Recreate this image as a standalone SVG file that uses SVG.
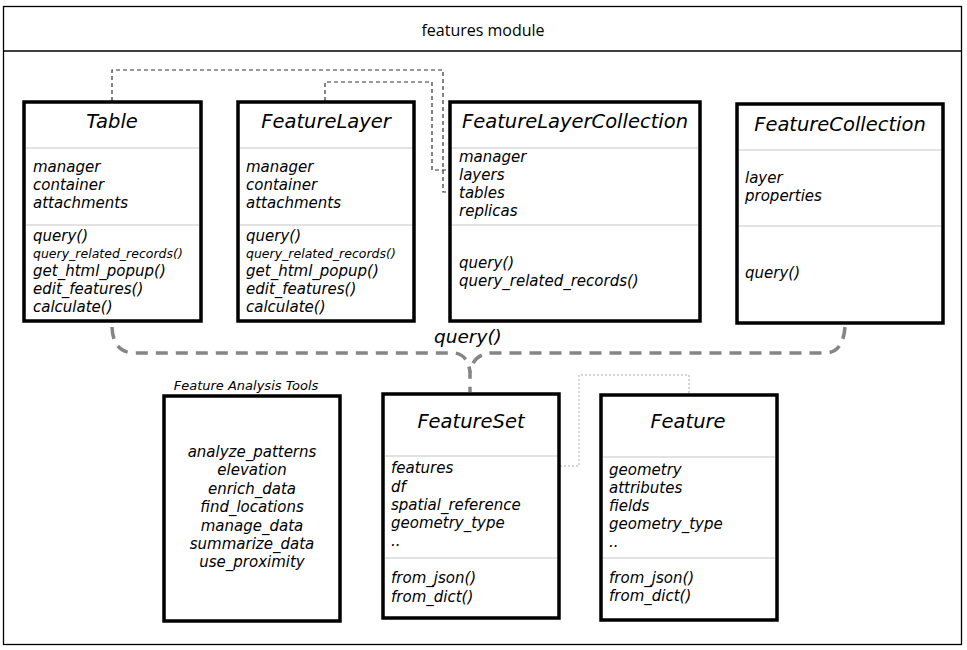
<svg xmlns="http://www.w3.org/2000/svg" width="967" height="650" viewBox="0 0 967 650">
<style>
.frame{fill:#fff;stroke:#000;stroke-width:1.3}
.box{fill:#fff;stroke:#000;stroke-width:3.5}
.sep{stroke:#e2e2e2;stroke-width:2}
text{font-family:"DejaVu Sans","Liberation Sans",sans-serif;font-style:italic;fill:#000}
.hdr{font-family:"Open Sans","DejaVu Sans",sans-serif;font-style:normal;font-size:16px}
.title{font-size:19.5px;text-anchor:middle}
.a{font-size:15px}
.s{font-size:12.5px}
.c{font-size:15px;text-anchor:middle}
.lab{font-size:13px;text-anchor:middle}
.q{font-size:18.5px}
.dash{fill:none;stroke:#333;stroke-width:1.2;stroke-dasharray:4 3}
.dot{fill:none;stroke:#aaa;stroke-width:1;stroke-dasharray:2 2}
.qc{fill:none;stroke:#858585;stroke-width:3.5;stroke-dasharray:12 8}
</style>
<rect class="frame" x="3.5" y="6.5" width="958" height="638"/>
<line x1="3.5" y1="51" x2="961.5" y2="51" stroke="#000" stroke-width="1.3"/>
<text class="hdr" x="483" y="36" text-anchor="middle">features module</text>

<g id="connectors">
<path class="dash" d="M112,101 V70 H443 V192 H450"/>
<path class="dash" d="M325,101 V82 H432 V170 H450"/>
<path class="qc" d="M112,327 Q113,353 135,353 H455 Q468,355 470,372 V392"/>
<path class="qc" d="M845,327 Q843,353 825,353 H490 Q473,355 470,372"/>
<path class="dot" d="M460,466 H579 V375 H689 V394"/>
<text class="q" x="434" y="343">query()</text>
</g>

<g id="Table">
<rect class="box" x="24" y="102" width="177" height="219"/>
<text class="title" x="112" y="128">Table</text>
<line class="sep" x1="26" y1="148" x2="199" y2="148"/>
<text class="a" x="33" y="172">manager</text>
<text class="a" x="33" y="190">container</text>
<text class="a" x="33" y="208">attachments</text>
<line class="sep" x1="26" y1="225" x2="199" y2="225"/>
<text class="a" x="33" y="241">query()</text>
<text class="s" x="33" y="258">query_related_records()</text>
<text class="a" x="33" y="276">get_html_popup()</text>
<text class="a" x="33" y="294">edit_features()</text>
<text class="a" x="33" y="312">calculate()</text>
</g>

<g id="FeatureLayer">
<rect class="box" x="238" y="102" width="176" height="219"/>
<text class="title" x="326" y="128">FeatureLayer</text>
<line class="sep" x1="240" y1="148" x2="412" y2="148"/>
<text class="a" x="246" y="172">manager</text>
<text class="a" x="246" y="190">container</text>
<text class="a" x="246" y="208">attachments</text>
<line class="sep" x1="240" y1="225" x2="412" y2="225"/>
<text class="a" x="246" y="241">query()</text>
<text class="s" x="246" y="258">query_related_records()</text>
<text class="a" x="246" y="276">get_html_popup()</text>
<text class="a" x="246" y="294">edit_features()</text>
<text class="a" x="246" y="312">calculate()</text>
</g>

<g id="FeatureLayerCollection">
<rect class="box" x="450" y="102" width="250" height="219"/>
<text class="title" x="575" y="128">FeatureLayerCollection</text>
<line class="sep" x1="452" y1="148" x2="698" y2="148"/>
<text class="a" x="459" y="162">manager</text>
<text class="a" x="459" y="180">layers</text>
<text class="a" x="459" y="198">tables</text>
<text class="a" x="459" y="216">replicas</text>
<line class="sep" x1="452" y1="225" x2="698" y2="225"/>
<text class="a" x="459" y="268">query()</text>
<text class="a" x="459" y="286">query_related_records()</text>
</g>

<g id="FeatureCollection">
<rect class="box" x="737" y="104" width="206" height="219"/>
<text class="title" x="840" y="131">FeatureCollection</text>
<line class="sep" x1="739" y1="150" x2="941" y2="150"/>
<text class="a" x="745" y="183">layer</text>
<text class="a" x="745" y="201">properties</text>
<line class="sep" x1="739" y1="226" x2="941" y2="226"/>
<text class="a" x="745" y="278">query()</text>
</g>

<g id="FeatureAnalysisTools">
<text class="lab" x="246" y="390">Feature Analysis Tools</text>
<rect class="box" x="164" y="396" width="176" height="225"/>
<text class="c" x="252" y="457">analyze_patterns</text>
<text class="c" x="252" y="475">elevation</text>
<text class="c" x="252" y="494">enrich_data</text>
<text class="c" x="252" y="512">find_locations</text>
<text class="c" x="252" y="531">manage_data</text>
<text class="c" x="252" y="549">summarize_data</text>
<text class="c" x="252" y="567">use_proximity</text>
</g>

<g id="FeatureSet">
<rect class="box" x="383" y="394" width="176" height="224"/>
<text class="title" x="471" y="428">FeatureSet</text>
<line class="sep" x1="385" y1="456" x2="557" y2="456"/>
<text class="a" x="391" y="473">features</text>
<text class="a" x="391" y="492">df</text>
<text class="a" x="391" y="510">spatial_reference</text>
<text class="a" x="391" y="528">geometry_type</text>
<text class="a" x="391" y="546">..</text>
<line class="sep" x1="385" y1="558" x2="557" y2="558"/>
<text class="a" x="391" y="583">from_json()</text>
<text class="a" x="391" y="602">from_dict()</text>
</g>

<g id="Feature">
<rect class="box" x="601" y="395" width="176" height="225"/>
<text class="title" x="688" y="428">Feature</text>
<line class="sep" x1="603" y1="457" x2="775" y2="457"/>
<text class="a" x="609" y="475">geometry</text>
<text class="a" x="609" y="493">attributes</text>
<text class="a" x="609" y="511">fields</text>
<text class="a" x="609" y="529">geometry_type</text>
<text class="a" x="609" y="547">..</text>
<line class="sep" x1="603" y1="558" x2="775" y2="558"/>
<text class="a" x="609" y="583">from_json()</text>
<text class="a" x="609" y="601">from_dict()</text>
</g>
</svg>
